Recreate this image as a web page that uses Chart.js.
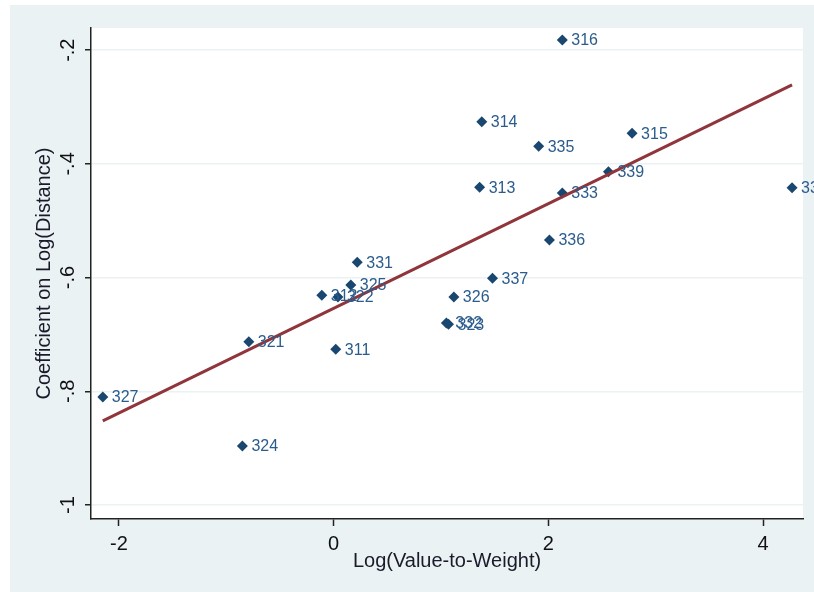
<!DOCTYPE html>
<html>
<head>
<meta charset="utf-8">
<script src="https://cdn.jsdelivr.net/npm/chart.js@4.4.1/dist/chart.umd.min.js"></script>
<style>
  html, body { margin: 0; padding: 0; background: #fff; }
  canvas { display: block; }
</style>
</head>
<body>
<canvas id="fitChart" width="814" height="592"></canvas>
<script>
// industry codes and their points
const codes = ['316', '314', '335', '315', '339', '313', '333', '334', '336', '331', '337',
    '325', '312', '322', '326', '332', '323', '321', '311', '327', '324'];
const logValueToWeight = [2.13, 1.38, 1.91, 2.78, 2.56, 1.36, 2.13, 4.27, 2.01, 0.22, 1.48,
    0.16, -0.11, 0.04, 1.12, 1.05, 1.07, -0.79, 0.02, -2.15, -0.85];
const distanceCoef = [-0.182, -0.326, -0.369, -0.346, -0.414, -0.441, -0.451, -0.442, -0.534, -0.573, -0.601,
    -0.613, -0.631, -0.634, -0.634, -0.680, -0.682, -0.713, -0.726, -0.810, -0.896];

// fitted line end points
const fitX = [-2.15, 4.27];
const fitY = [-0.852, -0.261];

const xTicks = [-2, 0, 2, 4];
const yTicks = [-1, -0.8, -0.6, -0.4, -0.2];

const stataFont = "'Liberation Sans', Arial, sans-serif";

document.addEventListener('DOMContentLoaded', function () {
    const points = codes.map((c, i) => ({ x: logValueToWeight[i], y: distanceCoef[i] }));
    const fit = fitX.map((x, i) => ({ x: x, y: fitY[i] }));

    const backdrop = {
        id: 'backdrop',
        beforeDraw(chart) {
            const { ctx, chartArea } = chart;
            ctx.save();
            ctx.fillStyle = '#eaf2f3';
            ctx.fillRect(10, 5, chart.width - 10, chart.height - 5);
            ctx.fillStyle = '#ffffff';
            ctx.fillRect(chartArea.left, chartArea.top, chartArea.right - chartArea.left, chartArea.bottom - chartArea.top);
            ctx.restore();
        }
    };

    // marker labels and rotated y tick labels
    const labels = {
        id: 'labels',
        afterDatasetsDraw(chart) {
            const ctx = chart.ctx;
            const meta = chart.getDatasetMeta(1);
            ctx.save();
            ctx.font = '16px ' + stataFont;
            ctx.fillStyle = '#2b5c8c';
            ctx.textAlign = 'left';
            ctx.textBaseline = 'middle';
            meta.data.forEach((pt, i) => {
                ctx.fillText(codes[i], pt.x + 9, pt.y + 1);
            });
            ctx.restore();
        },
        afterDraw(chart) {
            const ctx = chart.ctx;
            const y = chart.scales.y;
            ctx.save();
            ctx.font = '20px ' + stataFont;
            ctx.fillStyle = '#111';
            ctx.textAlign = 'center';
            ctx.textBaseline = 'middle';
            y.ticks.forEach(t => {
                const py = y.getPixelForValue(t.value);
                ctx.save();
                ctx.translate(68, py);
                ctx.rotate(-Math.PI / 2);
                ctx.fillText(String(t.value).replace('0.', '.'), 0, 0);
                ctx.restore();
            });
            ctx.restore();
        }
    };

    const config = {
        type: 'scatter',
        data: {
            datasets: [{
                type: 'line',
                data: fit,
                borderColor: '#90353b',
                borderWidth: 3,
                pointRadius: 0,
                fill: false,
            }, {
                data: points,
                backgroundColor: '#1a476f',
                borderColor: '#1a476f',
                pointStyle: 'rectRot',
                pointRadius: 5.5,
                borderWidth: 0,
            }]
        },
        options: {
            responsive: false,
            animation: false,
            layout: { padding: { top: 28, right: 11, left: 0, bottom: 0 } },
            plugins: {
                legend: { display: false },
                tooltip: { enabled: false }
            },
            scales: {
                x: {
                    type: 'linear',
                    min: -2.26,
                    max: 4.372,
                    afterBuildTicks: s => { s.ticks = xTicks.map(v => ({ value: v })); },
                    afterFit: s => { s.height = 73; },
                    grid: { drawOnChartArea: false, tickLength: 7, tickColor: '#222', tickWidth: 1.5 },
                    border: { color: '#222', width: 1.5 },
                    ticks: { color: '#111', padding: 6, font: { size: 20, family: stataFont } },
                    title: {
                        display: true,
                        text: 'Log(Value-to-Weight)',
                        color: '#1a1a2a',
                        font: { size: 20, family: stataFont },
                        padding: { top: 0, bottom: 19 }
                    }
                },
                y: {
                    type: 'linear',
                    min: -1.0246,
                    max: -0.161,
                    afterBuildTicks: s => { s.ticks = yTicks.map(v => ({ value: v })); },
                    afterFit: s => { s.width = 91; },
                    grid: { color: '#eaf2f3', lineWidth: 1.5, tickLength: 6, tickColor: '#222', tickWidth: 1.5 },
                    border: { color: '#222', width: 1.5 },
                    ticks: { display: false },
                    title: {
                        display: true,
                        text: 'Coefficient on Log(Distance)',
                        color: '#1a1a2a',
                        font: { size: 20, family: stataFont },
                        padding: { top: 32, bottom: 0 }
                    }
                }
            }
        },
        plugins: [backdrop, labels]
    };

    new Chart(document.getElementById('fitChart'), config);
});
</script>
</body>
</html>
